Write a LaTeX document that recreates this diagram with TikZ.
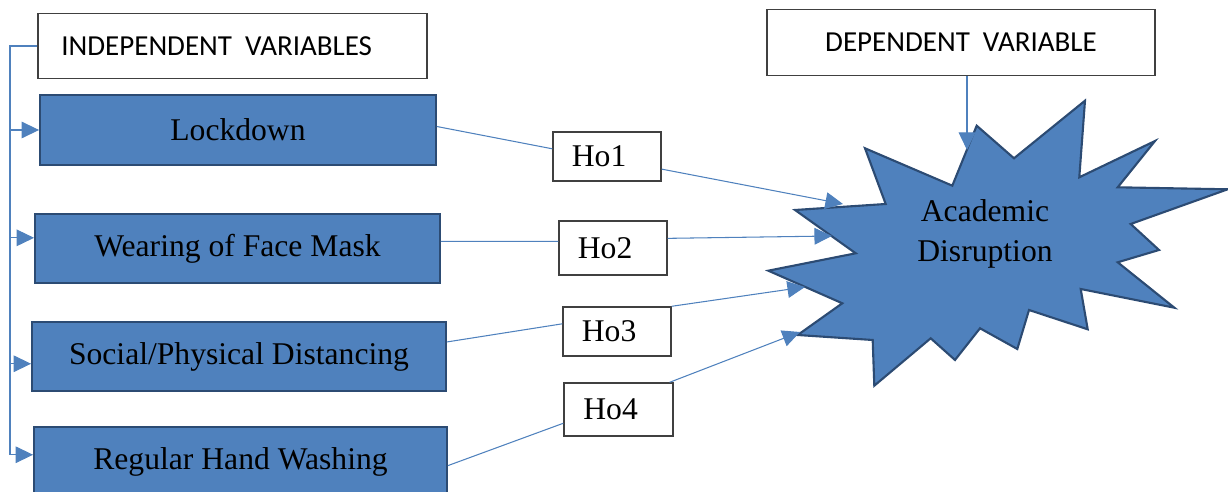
\documentclass[tikz,border=0pt]{standalone}
\usepackage{fontspec}
\setmainfont{Liberation Serif}
\newfontfamily\calfont{Carlito}
\usetikzlibrary{arrows.meta}
\definecolor{fillblue}{HTML}{4F81BD}
\definecolor{edgeblue}{HTML}{2C4B73}
\definecolor{lineblue}{HTML}{4F81BD}
\definecolor{boxedge}{HTML}{404040}
\begin{document}
\begin{tikzpicture}[x=0.02cm,y=-0.02cm,
  varbox/.style={draw=edgeblue, line width=1.1pt, fill=fillblue, inner sep=0pt, font=\fontsize{18pt}{22pt}\selectfont},
  hobox/.style={draw=boxedge, line width=0.8pt, fill=white, inner sep=0pt, minimum width=2.16cm, font=\fontsize{18pt}{22pt}\selectfont},
  titlebox/.style={draw=boxedge, line width=0.8pt, fill=white, inner sep=0pt, minimum width=7.78cm, minimum height=1.31cm, font=\calfont\fontsize{16.5pt}{20pt}\selectfont},
  starshape/.style={draw=edgeblue, line width=1.2pt, fill=fillblue},
  link/.style={draw=lineblue, line width=0.6pt},
  arr/.style={link, -{Triangle[length=10pt,width=9.5pt]}}]
\useasboundingbox (0,0) rectangle (1228,492);
\clip (0,0) rectangle (1228,492);

% title boxes
\node[titlebox] (indep) at (232.5,46) {INDEPENDENT\ \ VARIABLES\kern18pt};
\node[titlebox, minimum width=7.76cm] (dep) at (961,42.5) {DEPENDENT\ \ VARIABLE};

% independent variables
\node[varbox, minimum width=7.92cm, minimum height=1.4cm] (lock) at (238,130) {Lockdown};
\node[varbox, minimum width=8.1cm, minimum height=1.38cm] (mask) at (237.5,248.5) {Wearing of Face Mask};
\node[varbox, minimum width=8.28cm, minimum height=1.38cm] (social) at (239,356.5) {Social/Physical Distancing};
\node[varbox, minimum width=8.26cm, minimum height=1.4cm] (hand) at (240.5,462) {Regular Hand Washing};

% hypotheses
\node[hobox, minimum height=0.98cm] (ho1) at (607,156.5) {Ho1\kern9pt};
\node[hobox, minimum height=1.08cm] (ho2) at (613,248) {Ho2\kern9pt};
\node[hobox, minimum height=0.98cm] (ho3) at (617,331.5) {Ho3\kern9pt};
\node[hobox, minimum width=2.18cm, minimum height=1.06cm] (ho4) at (618.5,409.5) {Ho4\kern9pt};

% star (explosion)
\draw[starshape] (865,148.3) -- (952.3,185.7) -- (976.7,125.7) -- (1014,158.3)
  -- (1085,100.7) -- (1079.3,177.3) -- (1155,141) -- (1117.7,187.3)
  -- (1227.7,189.3) -- (1130.7,224) -- (1159,250) -- (1117.7,262.3)
  -- (1174.3,307.7) -- (1080.7,289) -- (1087.7,329.3) -- (1029,310)
  -- (1017.3,349) -- (980,328.3) -- (955,360) -- (930.7,338.3)
  -- (874.3,385.7) -- (872.7,340) -- (797.7,335) -- (842.3,303.3)
  -- (768.3,270.7) -- (855.7,253.3) -- (795,210) -- (885.7,204) -- cycle;
\node[align=center, font=\fontsize{18pt}{23pt}\selectfont] (ad) at (985,234) {Academic\\Disruption};

% arrow targets on the star
\coordinate (t1) at (843,204);
\coordinate (t2) at (832,236);
\coordinate (t3) at (805,287);
\coordinate (t4) at (800,332);
\coordinate (t5) at (967,150);

% connectors
\draw[link] (lock.1) -- (ho1.172);
\draw[arr] (ho1.-13) -- (t1);
\draw[link] (mask.2) -- (ho2.173);
\draw[arr] (ho2.10) -- (t2);
\draw[link] (social.4) -- (ho3.172);
\draw[arr] (ho3.north east) -- (t3);
\draw[link] (hand.-1) -- (ho4.-166);
\draw[arr] (ho4.28) -- (t4);
\draw[arr] (dep.south -| t5) -- (t5);

% left bracket
\coordinate (bk) at (10,46);
\coordinate (bb) at (10,455);
\draw[link] (indep.west) -- (bk) -- (bb);
\draw[arr] (bk |- lock.west) -- (lock.west);
\draw[arr] (bk |- mask.177) -- (mask.177);
\draw[arr] (bk |- social.182) -- (social.182);
\draw[arr] (bk |- hand.178) -- (hand.178);
\end{tikzpicture}
\end{document}
